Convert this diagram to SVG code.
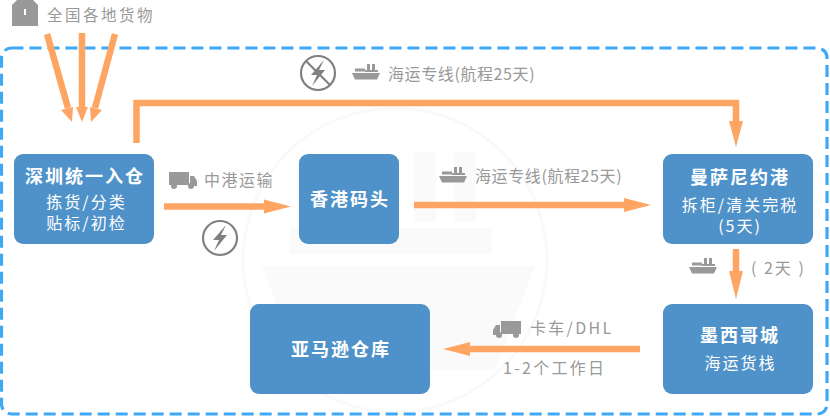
<svg xmlns="http://www.w3.org/2000/svg" xmlns:xlink="http://www.w3.org/1999/xlink" width="830" height="416" viewBox="0 0 830 416">
<style>
text{font-family:"Noto Sans CJK SC","Liberation Sans",sans-serif}
.box{fill:#4f92c9}
.t{font-size:18px;font-weight:700;fill:#fff;text-anchor:middle;letter-spacing:2px}
.s{font-size:16px;fill:#fff;text-anchor:middle;letter-spacing:2px}
.l{font-size:16px;fill:#999;letter-spacing:.6px}
.ln{fill:none;stroke:#ffa563;stroke-width:6.5}
.hd{fill:#ffa563}
.ic{fill:#999}
.wm{fill:#fafafa}
</style>
<defs>
<g id="ship"><path class="ic" d="M0 9H28L25 15.500H3Z"/><rect class="ic" x="3" y="4.500" width="10" height="3"/><rect class="ic" x="15" y="0" width="3" height="8"/><rect class="ic" x="20" y="0" width="3" height="8"/><rect class="ic" x="13" y="6" width="13" height="2"/></g>
<g id="truck"><rect class="ic" x="0" y="0" width="20" height="13"/><path class="ic" d="M21 4H25L28 9V14H21Z"/><circle class="ic" cx="5" cy="14" r="3"/><circle class="ic" cx="22" cy="14" r="3"/></g>
<g id="bolt"><circle r="17" fill="#fff" stroke="#808080" stroke-width="2.200"/><path fill="#808080" d="M6 -13L-7 2H-1L-6 13L7 -3H1Z"/></g>
</defs>
<rect width="830" height="416" fill="#fff"/>
<g id="watermark">
<circle cx="395" cy="260" r="152" fill="none" stroke="#f9f9f9" stroke-width="3"/>
<rect class="wm" x="414" y="152" width="22" height="70"/><rect class="wm" x="454" y="152" width="22" height="70"/>
<rect class="wm" x="290" y="228" width="202" height="26"/>
<path class="wm" d="M262 266H535L495 370H300Z"/>
</g>
<rect id="frame" x="1.500" y="48" width="825.500" height="366" rx="10" fill="none" stroke="#3fa9f5" stroke-width="3.200" stroke-dasharray="12 6"/>
<g id="connectors">
<path class="ln" d="M47 34L68 108"/><path class="hd" d="M61 110L73 107L72 122Z"/>
<path class="ln" d="M82 33V108"/><path class="hd" d="M76 107H88L82 122Z"/>
<path class="ln" d="M115 34L95 108"/><path class="hd" d="M90 107L102 110L91 122Z"/>
<path class="ln" d="M136.500 143V103H736V122"/><path class="hd" d="M729 121H743L736 147Z"/>
<path class="ln" d="M164 206.500H266"/><path class="hd" d="M264 199.500V213.500L291 206.500Z"/>
<path class="ln" d="M414 205H626"/><path class="hd" d="M624 198V212L651 205Z"/>
<path class="ln" d="M736 249V273"/><path class="hd" d="M729 271H743L736 299Z"/>
<path class="ln" d="M640 349H468"/><path class="hd" d="M470 342V356L443 349Z"/>
</g>
<g id="node-shenzhen"><rect class="box" x="14" y="154" width="140" height="90" rx="9"/><text class="t" x="85" y="183">深圳统一入仓</text><text class="s" x="86.500" y="208">拣货/分类</text><text class="s" x="86.500" y="229">贴标/初检</text></g>
<g id="node-hongkong"><rect class="box" x="299" y="154" width="100" height="90" rx="9"/><text class="t" x="350" y="206">香港码头</text></g>
<g id="node-manzanillo"><rect class="box" x="663" y="154" width="150" height="90" rx="9"/><text class="t" x="740" y="184">曼萨尼约港</text><text class="s" x="740" y="211">拆柜/清关完税</text><text class="s" x="740" y="232">(5天)</text></g>
<g id="node-mexico"><rect class="box" x="663" y="304" width="150" height="90" rx="9"/><text class="t" x="740" y="342">墨西哥城</text><text class="s" x="740.500" y="369">海运货栈</text></g>
<g id="node-amazon"><rect class="box" x="250" y="304" width="180" height="90" rx="9"/><text class="t" x="341" y="356">亚马逊仓库</text></g>
<g id="labels">
<path class="ic" d="M17 0H33L38 5V26H12V5Z"/><rect x="24" y="9" width="2" height="6" fill="#fff"/>
<text class="l" x="47" y="21" style="font-size:15.500px;letter-spacing:2.500px">全国各地货物</text>
<use xlink:href="#bolt" href="#bolt" x="318" y="73"/><path d="M306 61L330 85" stroke="#808080" stroke-width="2.200"/>
<use xlink:href="#ship" href="#ship" x="352" y="64"/>
<text class="l" x="388" y="80">海运专线(航程25天)</text>
<use xlink:href="#truck" href="#truck" x="169" y="172"/>
<text class="l" x="204" y="186" style="letter-spacing:1.500px">中港运输</text>
<use xlink:href="#bolt" href="#bolt" x="220" y="238"/>
<use xlink:href="#ship" href="#ship" x="439" y="167"/>
<text class="l" x="475" y="182">海运专线(航程25天)</text>
<use xlink:href="#ship" href="#ship" x="689" y="258"/>
<text class="l" x="751" y="274" style="letter-spacing:2px">( 2天 )</text>
<use xlink:href="#truck" href="#truck" transform="translate(521 321) scale(-1 1)"/>
<text class="l" x="530" y="334" style="letter-spacing:2.300px">卡车/DHL</text>
<text class="l" x="503" y="374" style="letter-spacing:2.300px">1-2个工作日</text>
</g>
</svg>
